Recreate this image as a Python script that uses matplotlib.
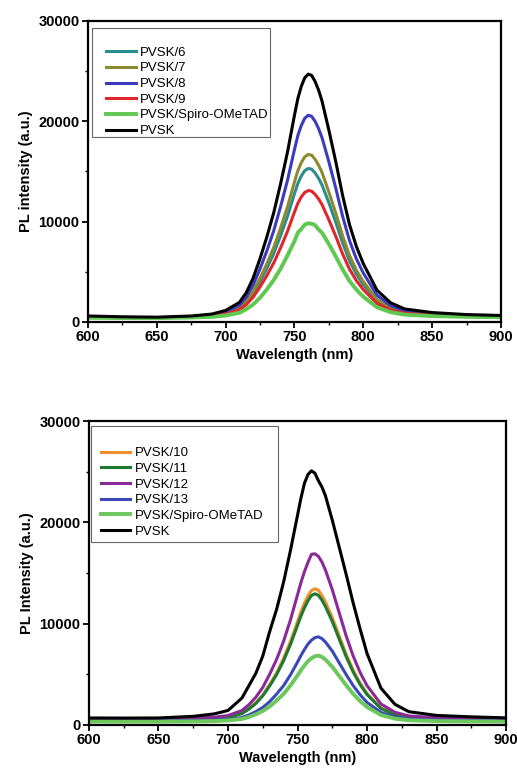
import matplotlib
matplotlib.use("Agg")
import matplotlib.pyplot as plt
from matplotlib.patches import Rectangle
from matplotlib.ticker import MultipleLocator

plt.rcParams['font.family'] = ['Liberation Sans', 'DejaVu Sans']

# wavelength grid (nm)
wl = [600, 625, 650, 675, 690, 700, 710, 715, 720, 725, 730, 735, 740, 745, 750, 752.5,
      755, 757.5, 760, 762.5, 765, 767.5, 770, 775, 780, 785, 790, 795, 800, 810, 820, 830,
      850, 875, 900]

# top panel
top_labels = ['PVSK/6', 'PVSK/7', 'PVSK/8', 'PVSK/9', 'PVSK/Spiro-OMeTAD', 'PVSK']
top_colors = ['#2a8c8f', '#8c8a2e', '#3b3bbf', '#e0262a', '#5ec850', '#000000']
pvsk6 = [470, 430, 410, 510, 630, 850, 1340, 1940, 2830, 4010, 5350, 6840, 8620, 10550, 12780, 13815,
         14560, 15080, 15300, 15230, 14860, 14330, 13670, 11890, 9950, 7880, 6090, 4760, 3720, 2080, 1310, 940,
         720, 600, 540]
pvsk7 = [470, 430, 410, 515, 645, 890, 1430, 2080, 3050, 4350, 5810, 7440, 9390, 11500, 13940, 15080,
         15890, 16460, 16700, 16620, 16210, 15640, 14910, 12960, 10850, 8580, 6630, 5160, 4030, 2240, 1390, 990,
         740, 610, 550]
pvsk8 = [480, 430, 420, 530, 690, 990, 1660, 2470, 3670, 5290, 7100, 9110, 11530, 14150, 17170, 18590,
         19590, 20300, 20600, 20500, 20000, 19290, 18380, 15970, 13350, 10530, 8110, 6290, 4880, 2670, 1620, 1120,
         810, 650, 570]
pvsk9 = [460, 420, 410, 500, 600, 790, 1210, 1720, 2470, 3490, 4630, 5890, 7410, 9050, 10950, 11840,
         12470, 12910, 13100, 13040, 12720, 12280, 11710, 10190, 8550, 6780, 5260, 4120, 3230, 1840, 1180, 870,
         680, 580, 530]
spiro_top = [420, 400, 390, 450, 510, 640, 920, 1270, 1740, 2420, 3250, 4190, 5320, 6640, 8050, 8900,
             9270, 9700, 9840, 9790, 9650, 9230, 8900, 7770, 6540, 5220, 4090, 3220, 2520, 1460, 970, 730,
             590, 510, 480]
pvsk_top = [600, 520, 480, 600, 790, 1150, 1950, 2920, 4370, 6310, 8490, 10910, 13810, 16960, 20590, 22280,
            23490, 24340, 24700, 24580, 23970, 23130, 22040, 19130, 15990, 12600, 9700, 7520, 5820, 3160, 1900, 1300,
            940, 740, 650]
top_series = [pvsk6, pvsk7, pvsk8, pvsk9, spiro_top, pvsk_top]

# bottom panel
bot_labels = ['PVSK/10', 'PVSK/11', 'PVSK/12', 'PVSK/13', 'PVSK/Spiro-OMeTAD', 'PVSK']
bot_colors = ['#f0902a', '#1e7a32', '#8a2a96', '#3a48b8', '#6cc85a', '#000000']
pvsk10 = [520, 510, 500, 550, 630, 760, 1150, 1600, 2180, 2960, 4000, 5160, 6590, 8270, 10210, 11180,
          12030, 12740, 13280, 13450, 13300, 12800, 12160, 10600, 8790, 6980, 5420, 4130, 3090, 1670, 1020, 730,
          590, 540, 510]
pvsk11 = [500, 490, 490, 550, 625, 750, 1120, 1560, 2120, 2870, 3860, 4980, 6350, 7970, 9840, 10770,
          11580, 12270, 12780, 12950, 12800, 12330, 11710, 10210, 8470, 6730, 5230, 3990, 2990, 1620, 1000, 720,
          590, 540, 510]
pvsk12 = [620, 600, 600, 670, 760, 930, 1420, 1990, 2730, 3710, 5020, 6490, 8280, 10410, 12860, 14090,
          15150, 16050, 16850, 16900, 16650, 16100, 15320, 13350, 11060, 8780, 6810, 5180, 3870, 2070, 1250, 890,
          710, 650, 620]
pvsk13 = [420, 410, 400, 425, 466, 541, 732, 981, 1313, 1728, 2309, 3056, 3886, 4965, 6210, 6870,
          7455, 7990, 8368, 8620, 8700, 8530, 8202, 7289, 6127, 4965, 3886, 2973, 2226, 1230, 774, 566,
          466, 425, 400]
spiro_bot = [340, 330, 330, 350, 382, 441, 591, 786, 1047, 1373, 1830, 2416, 3068, 3916, 4894, 5420,
             5872, 6300, 6589, 6780, 6850, 6720, 6459, 5742, 4829, 3916, 3068, 2351, 1764, 982, 623, 460,
             382, 350, 330]
pvsk_bot = [690, 680, 690, 850, 1090, 1430, 2650, 3870, 5090, 6800, 9240, 11440, 14120, 17290, 20710, 22420,
            23880, 24730, 25100, 24860, 24120, 23510, 22660, 20220, 17540, 14850, 12050, 9480, 7040, 3630, 2040, 1310,
            940, 800, 700]
bot_series = [pvsk10, pvsk11, pvsk12, pvsk13, spiro_bot, pvsk_bot]


def draw_panel(ax, series, labels, colors, ylabel, legend_box, legend_anchor):
    for y, lab, col in zip(series, labels, colors):
        lw = 2.8 if 'Spiro' in lab else 2.2
        ax.plot(wl, y, color=col, lw=lw, label=lab, solid_joinstyle='round')

    ax.set_xlim(600, 900)
    ax.set_ylim(0, 30000)
    ax.xaxis.set_major_locator(MultipleLocator(50))
    ax.xaxis.set_minor_locator(MultipleLocator(25))
    ax.yaxis.set_major_locator(MultipleLocator(10000))
    ax.yaxis.set_minor_locator(MultipleLocator(5000))
    ax.tick_params(which='major', direction='out', length=4, width=1.3,
                   labelsize=10.5, pad=2)
    ax.tick_params(which='minor', direction='out', length=2.5, width=1.0)
    for lab in ax.get_xticklabels() + ax.get_yticklabels():
        lab.set_fontweight('bold')
    for sp in ax.spines.values():
        sp.set_linewidth(1.6)

    ax.set_xlabel('Wavelength (nm)', fontsize=10.5, fontweight='bold', labelpad=3)
    ax.set_ylabel(ylabel, fontsize=10.5, fontweight='bold', labelpad=4)

    x0, y0, x1, y1 = legend_box
    ax.add_patch(Rectangle((x0, y0), x1 - x0, y1 - y0, transform=ax.transAxes,
                           fill=False, edgecolor='#666666', lw=0.8, zorder=5))
    ax.legend(loc='upper left', bbox_to_anchor=legend_anchor, frameon=False,
              fontsize=9.5, handlelength=2.2, handletextpad=0.3,
              labelspacing=0.26, borderpad=0, borderaxespad=0)


fig = plt.figure(figsize=(5.17, 7.77), dpi=100)
ax1 = fig.add_axes([0.170, 0.5856, 0.799, 0.3874])
ax2 = fig.add_axes([0.172, 0.067, 0.807, 0.391])

draw_panel(ax1, top_series, top_labels, top_colors, 'PL intensity (a.u.)',
           (0.0097, 0.6146, 0.4407, 0.9767), (0.045, 0.915))
draw_panel(ax2, bot_series, bot_labels, bot_colors, 'PL Intensity (a.u.)',
           (0.0048, 0.603, 0.453, 0.9836), (0.030, 0.915))

fig.savefig('out.png', dpi=100)
